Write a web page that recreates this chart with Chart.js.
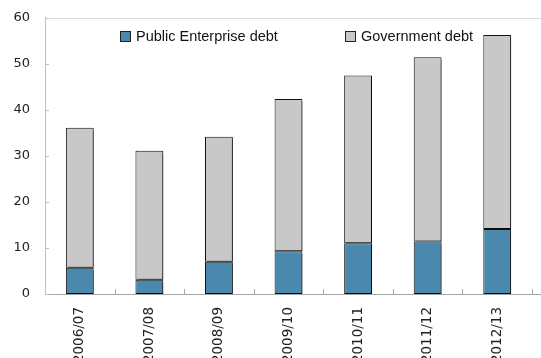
<!DOCTYPE html>
<html>
<head>
<meta charset="utf-8">
<script src="https://cdn.jsdelivr.net/npm/chart.js@4"></script>
<style>
  html, body { margin: 0; padding: 0; background: #fff; overflow: hidden; }
  #wrap { position: relative; width: 541px; height: 358px; }
  .legend-item {
    position: absolute; top: 28px; font: 14.5px "Liberation Sans", Arial, sans-serif;
    color: #111; white-space: nowrap; display: flex; align-items: center;
  }
  .legend-item .box { width: 9px; height: 9px; border: 1px solid #222; margin-right: 5px; }
</style>
</head>
<body>
<div id="wrap">
  <canvas id="debtChart" width="541" height="358"></canvas>
  <div class="legend-item" style="left:120px"><span class="box" style="background:#4a89ad"></span>Public Enterprise debt</div>
  <div class="legend-item" style="left:345px"><span class="box" style="background:#c8c8c8"></span>Government debt</div>
</div>
<script>
const years = ['2006/07', '2007/08', '2008/09', '2009/10', '2010/11', '2011/12', '2012/13'];
const publicEnterpriseDebt = [5.7, 3.1, 7.0, 9.3, 11.0, 11.4, 14.1];
const governmentDebt = [30.4, 28.0, 27.1, 33.0, 36.4, 40.0, 42.1];
const yTicks = [0, 10, 20, 30, 40, 50, 60];

// bar drop shadow + inside tick marks + top frame line
const decorations = {
  id: 'decorations',
  beforeDatasetsDraw(chart) {
    const ctx = chart.ctx;
    ctx.save();
    ctx.shadowColor = 'rgba(0,0,0,0.45)';
    ctx.shadowOffsetX = 2;
    ctx.shadowOffsetY = 2;
    ctx.shadowBlur = 0;
  },
  afterDatasetsDraw(chart) {
    const ctx = chart.ctx;
    ctx.restore();
    const area = chart.chartArea;
    const x = chart.scales.x, y = chart.scales.y;
    ctx.save();
    ctx.lineWidth = 1;
    // top frame line
    ctx.strokeStyle = '#d9d9d9';
    ctx.beginPath();
    ctx.moveTo(area.left, Math.round(area.top) + 0.5);
    ctx.lineTo(chart.width, Math.round(area.top) + 0.5);
    ctx.stroke();
    // bottom axis runs to the edge
    ctx.strokeStyle = '#a6a6a6';
    ctx.beginPath();
    ctx.moveTo(area.left, Math.round(area.bottom) + 0.5);
    ctx.lineTo(chart.width, Math.round(area.bottom) + 0.5);
    ctx.stroke();
    // y ticks inside
    ctx.strokeStyle = '#bfbfbf';
    yTicks.forEach(v => {
      const py = Math.round(y.getPixelForValue(v)) + 0.5;
      ctx.beginPath();
      ctx.moveTo(area.left, py);
      ctx.lineTo(area.left + 4, py);
      ctx.stroke();
    });
    // x ticks between categories
    ctx.strokeStyle = '#a6a6a6';
    const step = x.getPixelForTick(1) - x.getPixelForTick(0);
    for (let i = 0; i < years.length; i++) {
      const px = Math.round(x.getPixelForTick(i) + step / 2) + 0.5;
      ctx.beginPath();
      ctx.moveTo(px, area.bottom);
      ctx.lineTo(px, area.bottom - 5);
      ctx.stroke();
    }
    ctx.restore();
  }
};

new Chart(document.getElementById('debtChart'), {
  type: 'bar',
  data: {
    labels: years,
    datasets: [
      {
        label: 'Public Enterprise debt',
        data: publicEnterpriseDebt,
        backgroundColor: '#4a89ad',
        borderColor: '#111',
        borderWidth: 1,
        borderSkipped: false,
        barPercentage: 0.4,
        categoryPercentage: 1,
        clip: false
      },
      {
        label: 'Government debt',
        data: governmentDebt,
        backgroundColor: '#c8c8c8',
        borderColor: '#111',
        borderWidth: 1,
        borderSkipped: false,
        barPercentage: 0.4,
        categoryPercentage: 1,
        clip: false
      }
    ]
  },
  options: {
    responsive: false,
    animation: false,
    layout: { padding: { top: 17.5, right: 9, left: 0, bottom: 0 } },
    plugins: {
      legend: { display: false },
      tooltip: { enabled: false }
    },
    scales: {
      x: {
        stacked: true,
        grid: { display: false, drawTicks: false },
        border: { color: '#a6a6a6' },
        ticks: {
          color: '#222',
          font: { family: 'DejaVu Sans', size: 13.5 },
          minRotation: 90,
          maxRotation: 90,
          padding: 13
        },
        afterFit: s => { s.height = 64; }
      },
      y: {
        stacked: true,
        min: 0,
        max: 60,
        grid: { display: false, drawTicks: false },
        border: { color: '#bfbfbf' },
        ticks: {
          stepSize: 10,
          color: '#222',
          font: { family: 'DejaVu Sans', size: 13 },
          padding: 15
        },
        // the tick padding otherwise pushes the plot top down
        afterFit: s => { s.width = 45; s.paddingTop = 0; s.paddingBottom = 0; }
      }
    }
  },
  plugins: [decorations]
});
</script>
</body>
</html>
